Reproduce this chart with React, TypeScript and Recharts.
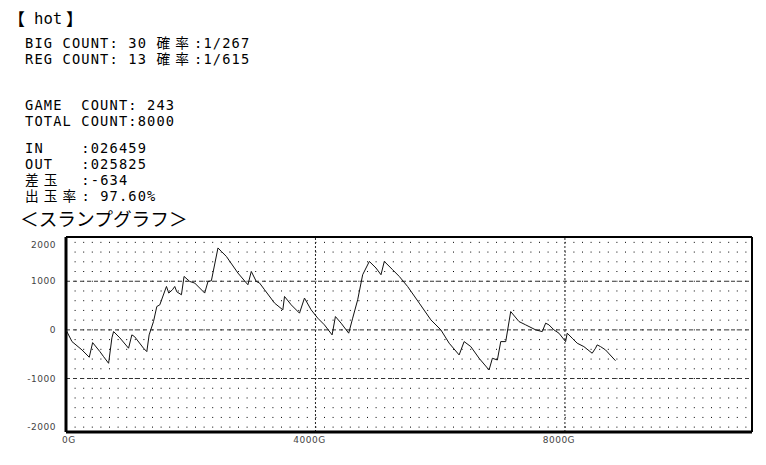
import { LineChart, Line, XAxis, YAxis, CartesianGrid, ReferenceLine } from 'recharts';

// slump graph: game count vs. balls difference
const games = [
  0, 96, 256, 373, 427, 544, 603, 683, 736, 763, 864, 1003, 1056, 1099, 1243, 1296,
  1333, 1403, 1456, 1504, 1611, 1648, 1707, 1744, 1776, 1851, 1893, 1984, 2064, 2224,
  2277, 2331, 2437, 2491, 2571, 2757, 2917, 2971, 3051, 3104, 3184, 3344, 3477, 3504,
  3611, 3744, 3824, 3931, 4037, 4144, 4267, 4320, 4411, 4533, 4597, 4677, 4757, 4864,
  4971, 5051, 5104, 5237, 5344, 5477, 5664, 5851, 6011, 6144, 6304, 6384, 6491, 6624,
  6784, 6837, 6917, 6971, 7051, 7131, 7264, 7371, 7531, 7637, 7691, 7744, 7824, 7904,
  8011, 8037, 8117, 8197, 8304, 8437, 8491, 8517, 8571, 8651, 8811,
];
const balls = [
  0, -241, -412, -563, -262, -447, -551, -687, -165, -35, -165, -377, -103, -138, -377, -447,
  -103, 171, 480, 515, 893, 757, 825, 893, 784, 722, 1099, 996, 963, 757,
  996, 1010, 1685, 1614, 1511, 1169, 928, 1202, 996, 963, 825, 551, 412, 687,
  515, 344, 654, 412, 241, 103, -103, 274, 138, -68, 241, 619, 1134, 1408,
  1272, 1134, 1408, 1237, 1099, 893, 551, 206, 0, -274, -515, -241, -344, -584,
  -825, -584, -619, -241, -241, 377, 171, 103, 0, -35, 138, 103, 0, -68,
  -241, -68, -171, -274, -344, -480, -377, -309, -344, -412, -634,
];

const xTicks = [0, 4000, 8000];
const yTicks = [-2000, -1000, 0, 1000, 2000];
const majorY = [-1000, 0, 1000];
const majorX = [4000, 8000];
const minorY = [-2000, -1800, -1600, -1400, -1200, -1000, -800, -600, -400, -200, 0, 200, 400, 600, 800, 1000, 1200, 1400, 1600, 1800];

const xMax = 11000;
const yMin = -2100;
const yMax = 1910;

const countLines = ['BIG COUNT: 30 確率:1/267', 'REG COUNT: 13 確率:1/615'];
const gameLines = ['GAME  COUNT: 243', 'TOTAL COUNT:8000'];
const ballLines = ['IN    :026459', 'OUT   :025825', '差玉  :-634', '出玉率: 97.60%'];

const data = games.map((g, i) => ({ g, v: balls[i] }));

// split a line into runs of half-width and full-width characters
function runs(text: string) {
  const out: { wide: boolean; s: string }[] = [];
  for (const c of text) {
    const wide = c.charCodeAt(0) > 255;
    const last = out[out.length - 1];
    if (last && last.wide === wide) last.s += c;
    else out.push({ wide, s: c });
  }
  return out;
}

function Mono({ text, top, left }: { text: string; top: number; left: number }) {
  return (
    <div style={{ position: 'absolute', top, left, whiteSpace: 'pre', lineHeight: '16px', letterSpacing: 1.15 }}>
      {runs(text).map((r, i) =>
        r.wide ? (
          <span key={i} style={{ letterSpacing: 5.1 }}>
            {r.s}
          </span>
        ) : (
          <span key={i}>{r.s}</span>
        )
      )}
    </div>
  );
}

const YTick = (props: any) => {
  const { y, payload } = props;
  const yy = Math.min(Math.max(y, 245), 428);
  return (
    <text x={56} y={yy} dy={3} textAnchor="end" fontSize={9} fill="#444" fontFamily="DejaVu Sans" letterSpacing={0.5}>
      {payload.value}
    </text>
  );
};

const XTick = (props: any) => {
  const { x, payload } = props;
  const first = payload.value === 0;
  return (
    <text x={first ? x - 4 : x - 6} y={443} textAnchor={first ? 'start' : 'middle'} fontSize={9} fill="#444" fontFamily="DejaVu Sans" letterSpacing={0.5}>
      {payload.value + 'G'}
    </text>
  );
};

export default function App() {
  return (
    <div style={{ position: 'absolute', top: 0, left: 0, width: 766, height: 465, background: '#fff', fontFamily: '"DejaVu Sans Mono", "Noto Sans CJK JP", monospace', fontSize: 13.7, color: '#000' }}>
      <LineChart width={766} height={465} data={data} margin={{ top: 237, right: 14, bottom: 0, left: 0 }}>
        <CartesianGrid horizontal vertical={false} horizontalValues={minorY} stroke="#000" strokeDasharray="1 7.6" />
        {majorY.map((v) => (
          <ReferenceLine key={'y' + v} y={v} stroke="#333" strokeDasharray="4 3" />
        ))}
        {majorX.map((v) => (
          <ReferenceLine key={'x' + v} x={v} stroke="#222" strokeDasharray="2 2" />
        ))}
        <XAxis dataKey="g" type="number" domain={[0, xMax]} ticks={xTicks} interval={0} tick={<XTick />} tickLine={false} axisLine={false} height={33} allowDataOverflow />
        <YAxis type="number" domain={[yMin, yMax]} ticks={yTicks} interval={0} tick={<YTick />} tickLine={false} axisLine={false} width={66} allowDataOverflow />
        <ReferenceLine x={0} stroke="#000" strokeWidth={3} />
        <ReferenceLine x={xMax} stroke="#000" strokeWidth={2} />
        <ReferenceLine y={yMax} stroke="#000" strokeWidth={2} />
        <ReferenceLine y={yMin} stroke="#000" strokeWidth={3} />
        <Line dataKey="v" type="linear" stroke="#111" strokeWidth={1} dot={false} isAnimationActive={false} />
      </LineChart>

      <div style={{ position: 'absolute', top: 9, left: 8, fontFamily: '"Noto Sans CJK JP"', fontSize: 17, lineHeight: '20px' }}>【</div>
      <div style={{ position: 'absolute', top: 10, left: 34, fontSize: 15.6, lineHeight: '18px' }}>hot</div>
      <div style={{ position: 'absolute', top: 9, left: 66, fontFamily: '"Noto Sans CJK JP"', fontSize: 17, lineHeight: '20px' }}>】</div>

      {countLines.map((t, i) => (
        <Mono key={'c' + i} text={t} top={35 + i * 16} left={25} />
      ))}
      {gameLines.map((t, i) => (
        <Mono key={'g' + i} text={t} top={97 + i * 16} left={25} />
      ))}
      {ballLines.map((t, i) => (
        <Mono key={'b' + i} text={t} top={140 + i * 16} left={25} />
      ))}
      <div style={{ position: 'absolute', top: 209, left: 20, fontFamily: '"Noto Sans CJK JP"', fontSize: 18.7, lineHeight: '18px' }}>＜スランプグラフ＞</div>
    </div>
  );
}
